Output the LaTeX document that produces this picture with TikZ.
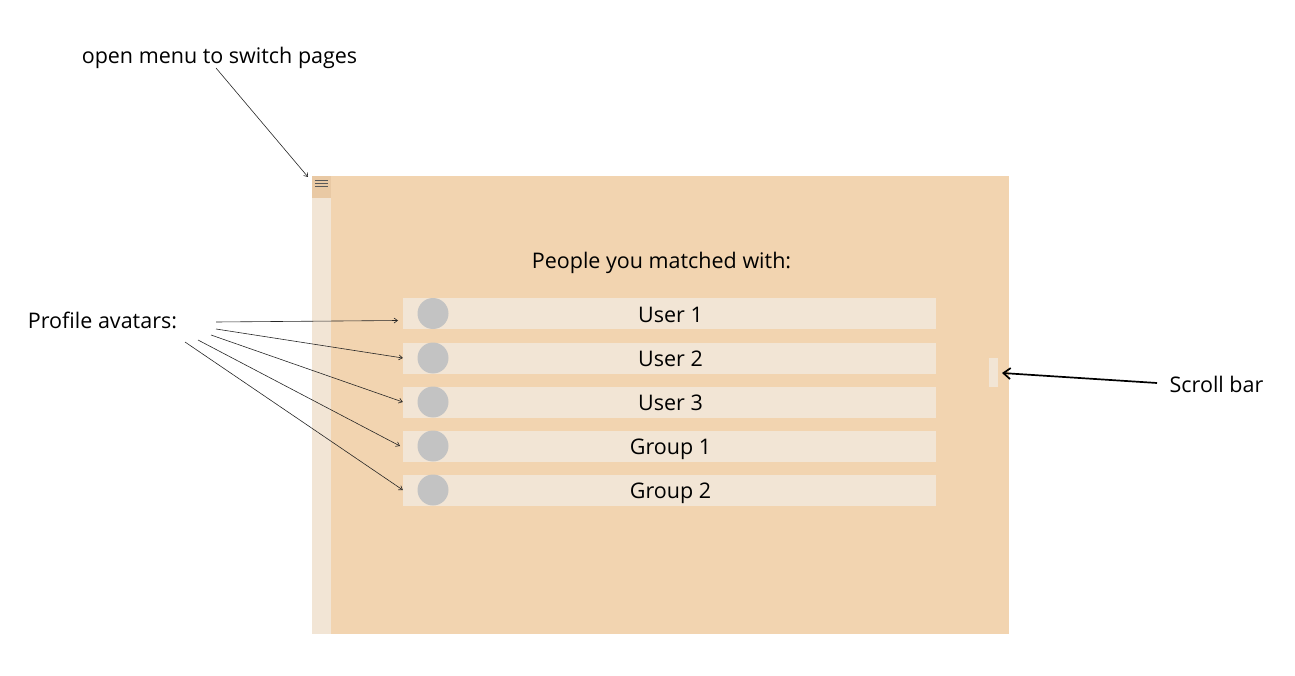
\documentclass[tikz,border=0pt]{standalone}
\usepackage{fontspec}
\setmainfont{Open Sans}
\usetikzlibrary{arrows.meta, calc, positioning}
\definecolor{pagefill}{HTML}{F2D4B0}
\definecolor{barfill}{HTML}{F2E5D5}
\definecolor{menufill}{HTML}{E9C9A4}
\definecolor{avatarfill}{HTML}{C3C3C3}
\tikzstyle{notetext} = [font=\fontsize{21.5}{24}\selectfont, text=black, inner sep=0pt, anchor=base]
\tikzstyle{rowbox} = [rectangle, fill=barfill, minimum width=533pt, minimum height=31pt, inner sep=0pt]
\tikzstyle{avatar} = [circle, fill=avatarfill, minimum size=31pt, inner sep=0pt]
\tikzstyle{arrow} = [line width=0.6pt, black!85, -{Straight Barb[length=3.5pt,width=5pt]}]
\tikzstyle{bigarrow} = [line width=1.7pt, black, -{Straight Barb[length=7pt,width=11pt]}]
\tikzstyle{menuline} = [line width=1pt, black!65]
\begin{document}
\begin{tikzpicture}[x=1pt, y=-1pt]
		\useasboundingbox (0,0) rectangle (1295,676);
		\node (Page) [rectangle, fill=pagefill, minimum width=697pt, minimum height=458pt, inner sep=0pt] at (660.5,405) {};
		\node (Sidebar) [rectangle, fill=barfill, minimum width=19pt, minimum height=458pt, inner sep=0pt] at (321.5,405) {};
		\node (Menu) [rectangle, fill=menufill, minimum width=19pt, minimum height=22pt, inner sep=0pt] at (321.5,187) {};
		\draw [menuline] (315,180.5) -- (328,180.5);
		\draw [menuline] (315,183.5) -- (328,183.5);
		\draw [menuline] (315,186.5) -- (328,186.5);
		\node (Title) [notetext] at (661.5,269) {People you matched with:};
		\node (UserOne) [rowbox] at (669.5,313.5) {};
		\node (UserTwo) [rowbox] at (669.5,358) {};
		\node (UserThree) [rowbox] at (669.5,402) {};
		\node (GroupOne) [rowbox] at (669.5,446) {};
		\node (GroupTwo) [rowbox] at (669.5,490) {};
		\node (UserOneText) [notetext] at (670.5,322) {User 1};
		\node (UserTwoText) [notetext] at (670.5,366) {User 2};
		\node (UserThreeText) [notetext] at (670.5,410) {User 3};
		\node (GroupOneText) [notetext] at (670.5,454) {Group 1};
		\node (GroupTwoText) [notetext] at (670.5,498) {Group 2};
		\node (AvatarOne) [avatar] at (433,313.5) {};
		\node (AvatarTwo) [avatar] at (433,358) {};
		\node (AvatarThree) [avatar] at (433,402) {};
		\node (AvatarFour) [avatar] at (433,446) {};
		\node (AvatarFive) [avatar] at (433,490) {};
		\node (Scrollbar) [rectangle, fill=barfill, minimum width=9pt, minimum height=29pt, inner sep=0pt] at (993.5,372.5) {};
		\node (MenuNote) [notetext] at (219.5,63.5) {open menu to switch pages};
		\node (AvatarNote) [notetext] at (102.5,328) {Profile avatars:};
		\node (ScrollNote) [notetext] at (1216.5,392) {Scroll bar};
		\coordinate (MenuStart) at (216,68);
		\coordinate (MenuEnd) at (308,177);
		\coordinate (NoteA) at (216,322);
		\coordinate (NoteB) at (216,329);
		\coordinate (NoteC) at (211,335);
		\coordinate (NoteD) at (198,340);
		\coordinate (NoteE) at (185,342);
		\coordinate (EndA) at (398,320.5);
		\coordinate (EndD) at (400,446);
		\coordinate (ScrollStart) at (1157,383);
		\coordinate (ScrollEnd) at (1002,373);
		\draw [arrow] (MenuStart) -- (MenuEnd);
		\draw [arrow] (NoteA) -- (EndA);
		\draw [arrow] (NoteB) -- (UserTwo.west);
		\draw [arrow] (NoteC) -- (UserThree.west);
		\draw [arrow] (NoteD) -- (EndD);
		\draw [arrow] (NoteE) -- (GroupTwo.west);
		\draw [bigarrow] (ScrollStart) -- (ScrollEnd);
		\end{tikzpicture}
\end{document}
